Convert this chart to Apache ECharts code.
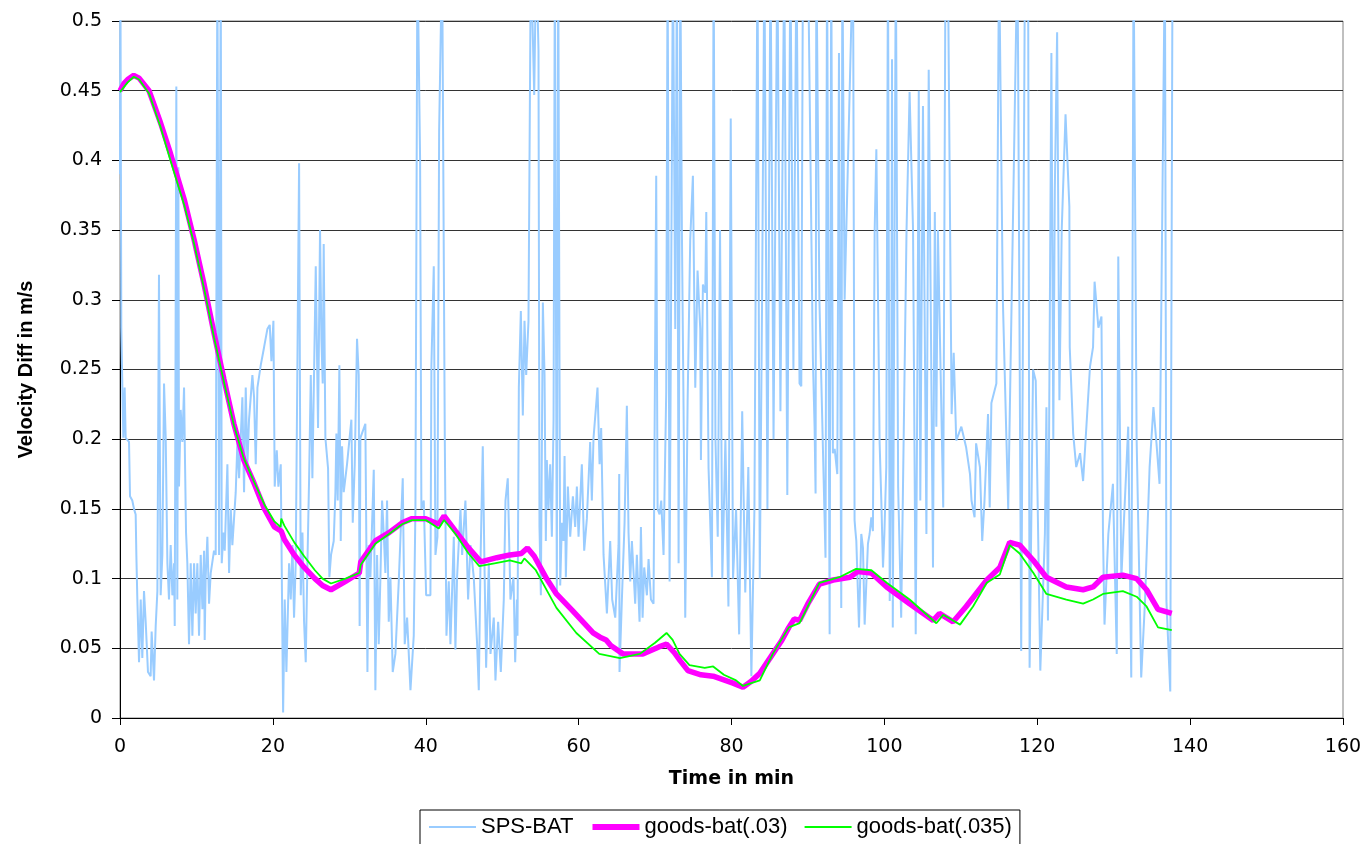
<!DOCTYPE html>
<html>
<head>
<meta charset="utf-8">
<script src="https://cdn.jsdelivr.net/npm/echarts@6/dist/echarts.min.js"></script>
<style>html,body{margin:0;padding:0;background:#fff;}#c{width:1372px;height:844px;}</style>
</head>
<body>
<div id="c"></div>
<script>
// ---- data: [time in min, velocity diff in m/s] ----
const spsBat = [
[0,0.39],[0.05,0.55],[0.12,0.39],[0.17,0.28],[0.31,0.237],[0.44,0.201],[0.61,0.237],[0.74,0.201],[1.18,0.198],[1.31,0.159],[1.61,0.156],[1.83,0.150],[2.05,0.146],[2.14,0.117],[2.27,0.085],[2.49,0.040],[2.71,0.085],[2.92,0.043],[3.14,0.091],[3.36,0.069],[3.66,0.033],[4.01,0.030],[4.14,0.062],[4.45,0.027],[4.67,0.066],[4.89,0.091],[5.10,0.318],[5.32,0.088],[5.54,0.117],[5.76,0.240],[5.98,0.201],[6.20,0.111],[6.41,0.085],[6.63,0.124],[6.85,0.088],[7.07,0.111],[7.16,0.066],[7.37,0.453],[7.50,0.085],[7.64,0.395],[7.72,0.166],[7.94,0.221],[8.16,0.198],[8.38,0.237],[8.51,0.182],[8.64,0.133],[8.81,0.111],[9.03,0.053],[9.25,0.111],[9.47,0.059],[9.69,0.111],[9.90,0.075],[10.12,0.111],[10.34,0.059],[10.56,0.117],[10.78,0.078],[11.00,0.120],[11.08,0.056],[11.21,0.101],[11.43,0.130],[11.65,0.082],[11.87,0.104],[12.30,0.120],[12.52,0.117],[12.74,0.55],[12.96,0.117],[13.18,0.55],[13.31,0.111],[13.53,0.133],[13.70,0.120],[14.05,0.182],[14.27,0.104],[14.49,0.150],[14.70,0.124],[14.92,0.143],[15.14,0.162],[15.36,0.198],[15.58,0.172],[16.01,0.230],[16.23,0.162],[16.45,0.237],[16.67,0.182],[16.88,0.214],[17.32,0.246],[17.54,0.230],[17.76,0.182],[17.98,0.237],[18.41,0.253],[18.85,0.266],[19.28,0.279],[19.59,0.282],[19.81,0.256],[20.07,0.285],[20.24,0.166],[20.51,0.192],[20.72,0.166],[21.03,0.182],[21.34,0.004],[21.55,0.085],[21.77,0.033],[22.12,0.111],[22.34,0.085],[22.56,0.124],[22.77,0.072],[22.99,0.111],[23.43,0.398],[23.65,0.088],[23.87,0.133],[24.08,0.069],[24.30,0.040],[24.52,0.111],[24.74,0.172],[24.96,0.246],[25.17,0.172],[25.61,0.324],
[25.69,0.324],[25.91,0.208],[26.17,0.350],[26.35,0.272],[26.52,0.240],[26.65,0.340],[26.87,0.201],[27.22,0.179],[27.39,0.101],[27.61,0.117],[27.96,0.127],[28.18,0.162],[28.31,0.204],[28.48,0.156],[28.70,0.253],[28.88,0.127],[29.05,0.195],[29.27,0.162],[29.70,0.182],[30.27,0.214],[30.45,0.140],[30.71,0.182],[31.01,0.272],[31.23,0.246],[31.35,0.066],[31.45,0.201],[32.10,0.211],[32.37,0.033],[32.54,0.124],[32.76,0.101],[33.20,0.178],[33.41,0.020],[33.63,0.117],[33.85,0.053],[34.07,0.101],[34.29,0.156],[34.50,0.133],[34.72,0.104],[34.94,0.156],[35.16,0.069],[35.38,0.101],[35.68,0.033],[36.03,0.046],[36.47,0.098],[36.99,0.172],[37.25,0.053],[37.56,0.072],[38.00,0.020],[38.43,0.059],[38.65,0.150],[38.91,0.55],[39.26,0.401],[39.43,0.150],[39.74,0.156],[40.05,0.088],[40.61,0.088],[40.74,0.253],[41.05,0.324],[41.27,0.117],[41.53,0.130],[41.75,0.421],[42.14,0.55],[42.49,0.201],[42.71,0.059],[43.01,0.098],[43.23,0.053],[43.67,0.130],[43.88,0.049],[44.10,0.101],[44.54,0.150],[44.76,0.117],[45.19,0.156],[45.54,0.085],[45.85,0.124],[46.28,0.101],[46.72,0.053],[46.94,0.020],[47.16,0.111],[47.46,0.195],[47.68,0.111],[47.90,0.036],[48.25,0.111],[48.47,0.046],[48.90,0.072],[49.12,0.027],[49.47,0.069],[49.82,0.033],[50.21,0.085],[50.43,0.156],[50.73,0.172],[51.08,0.085],[51.48,0.101],
[51.70,0.040],[51.92,0.085],[52.00,0.059],[52.18,0.237],[52.44,0.292],[52.70,0.217],[52.92,0.285],[53.14,0.246],[53.44,0.285],[53.75,0.55],[54.19,0.447],[54.45,0.55],[54.75,0.479],[54.88,0.137],[55.06,0.088],[55.32,0.298],[55.54,0.246],[55.71,0.127],[55.84,0.185],[56.06,0.150],[56.28,0.182],[56.50,0.130],[56.72,0.214],[56.89,0.55],[57.15,0.091],[57.33,0.55],[57.59,0.095],[57.81,0.140],[58.02,0.127],[58.16,0.188],[58.33,0.101],[58.59,0.166],[58.90,0.130],[59.25,0.159],[59.55,0.137],[59.77,0.166],[59.99,0.130],[60.42,0.182],[60.73,0.120],[61.08,0.143],[61.51,0.198],[61.73,0.156],[61.95,0.201],[62.47,0.237],[62.74,0.182],[62.95,0.208],[63.26,0.117],[63.70,0.075],[64.13,0.127],[64.39,0.085],[64.79,0.072],[65.22,0.124],[65.31,0.175],[65.35,0.033],[65.66,0.085],[66.01,0.140],[66.31,0.224],[66.53,0.133],[66.75,0.098],[66.97,0.127],[67.40,0.082],[67.62,0.117],[67.97,0.069],[68.15,0.137],[68.37,0.072],[68.58,0.108],[68.93,0.088],[69.15,0.114],[69.46,0.085],[69.80,0.082],[70.15,0.389],[70.33,0.150],[70.59,0.146],[70.81,0.156],[71.11,0.117],[71.46,0.234],[71.64,0.55],[71.90,0.098],[72.34,0.55],[72.64,0.279],[72.86,0.55],[73.08,0.111],[73.30,0.55],[73.51,0.350],[73.73,0.221],[73.95,0.072],[74.26,0.227],[74.60,0.343],[74.95,0.389],[75.26,0.237],[75.56,0.321],[75.91,0.279],[76.00,0.185],[76.26,0.311],[76.57,0.305],[76.70,0.363],[77.00,0.179],[77.44,0.101],[77.66,0.55],
[77.9,0.2],[78.2,0.13],[78.5,0.35],[78.8,0.1],[79.2,0.2],[79.6,0.08],[79.9,0.43],[80.2,0.1],[80.6,0.15],[81.0,0.06],[81.4,0.22],[81.8,0.09],[82.2,0.18],[82.6,0.03],[83.0,0.15],[83.4,0.55],[83.7,0.1],[84.0,0.3],[84.3,0.55],[84.7,0.15],[85.1,0.55],[85.5,0.2],[86.0,0.55],[86.4,0.22],[86.9,0.55],[87.3,0.16],[87.7,0.55],[88.1,0.25],[88.5,0.55],[88.9,0.24],
[89.13,0.238],[89.35,0.55],[90.0,0.55],[90.65,0.257],[90.87,0.209],[91.0,0.161],[91.1,0.55],[91.5,0.3],[92.3,0.115],[92.5,0.55],[92.84,0.06],[93.05,0.55],[93.27,0.19],[93.5,0.193],[93.84,0.175],[94.06,0.477],[94.36,0.079],[94.5,0.55],[94.8,0.3],[95.9,0.55],[96.1,0.142],[96.2,0.135],[96.33,0.127],[96.68,0.065],[96.98,0.132],[97.2,0.122],[97.42,0.067],[97.85,0.125],[98.07,0.132],[98.29,0.144],[98.5,0.134],[98.73,0.35],[98.95,0.408],[99.38,0.197],[99.6,0.156],[99.82,0.108],[100.0,0.132],[100.25,0.180],[100.47,0.55],[100.7,0.084],[100.9,0.204],[101.0,0.4725],[101.1,0.065],[101.5,0.55],[101.8,0.166],[102.2,0.072],[102.9,0.35],[103.3,0.449],[103.75,0.35],[104.1,0.06],[104.3,0.228],[104.5,0.45],[104.7,0.156],[105.05,0.439],[105.5,0.132],[105.8,0.465],[106.36,0.108],[106.6,0.363],[106.8,0.209],[107.0,0.35],[107.7,0.151],[108.0,0.55],[108.3,0.55],[108.8,0.218],[109.07,0.262],[109.4,0.199],[110.07,0.209],[110.7,0.194],[111.2,0.175],[111.4,0.156],[111.8,0.144],[112.0,0.197],[112.5,0.18],[112.8,0.127],[113.1,0.156],[113.56,0.218],[113.78,0.151],[114.0,0.226],[114.65,0.24],[115.0,0.55],[115.5,0.3],[116.2,0.15],[117.4,0.55],[117.5,0.467],[117.9,0.048],[118.4,0.55],[118.8,0.55],[119.0,0.036],[119.45,0.25],[119.8,0.242],[120.4,0.034],[121.0,0.132],[121.2,0.223],[121.4,0.07],[121.85,0.477],[122.1,0.2],[122.3,0.38],[122.6,0.492],[122.9,0.228],[123.2,0.35],[123.7,0.433],[124.2,0.367],[124.25,0.266],[124.7,0.204],[125.1,0.18],[125.6,0.19],[126.0,0.17],[126.9,0.252],[127.3,0.266],[127.5,0.313],[128.0,0.28],[128.4,0.288],[128.6,0.132],[128.8,0.067],[129.3,0.132],[129.9,0.168],[130.4,0.046],[130.6,0.331],[131.0,0.1],[131.9,0.209],[132.3,0.029],[132.6,0.55],[133.0,0.2],[133.6,0.029],[134.1,0.084],[134.7,0.18],[135.2,0.223],[135.6,0.197],[136.0,0.168],[136.7,0.55],[136.9,0.084],[137.4,0.019],[137.7,0.55]
];
const goods03 = [
[0,0.450],[0.5,0.455],[1,0.458],[1.8,0.461],[2.5,0.459],[3.8,0.450],[5.3,0.427],[6.6,0.405],[8.4,0.372],[9.7,0.343],[11.0,0.311],[12.3,0.276],[13.6,0.243],[14.9,0.211],[16.2,0.185],[17.5,0.169],[18.9,0.150],[20.2,0.137],[21.1,0.134],[21.5,0.128],[22.8,0.117],[24.1,0.108],[25.5,0.100],[26.5,0.095],[27.6,0.092],[29.5,0.098],[31.3,0.104],[31.5,0.112],[33.4,0.127],[35.2,0.133],[36.9,0.140],[38.2,0.143],[40.0,0.143],[41.7,0.139],[42.4,0.145],[43.9,0.134],[45.6,0.122],[47.2,0.112],[49.3,0.115],[51.0,0.117],[52.5,0.118],[53.3,0.122],[54.2,0.116],[55.8,0.100],[57.1,0.089],[59.2,0.077],[61.9,0.061],[62.8,0.058],[63.6,0.056],[64.2,0.052],[65.8,0.046],[68.4,0.046],[70.5,0.051],[71.5,0.053],[72.5,0.047],[73.3,0.041],[74.3,0.034],[76.0,0.031],[77.6,0.030],[80.2,0.025],[81.5,0.022],[82.5,0.026],[83.7,0.032],[85.4,0.046],[86.5,0.055],[87.5,0.065],[88.2,0.071],[88.9,0.070],[90.0,0.082],[91.5,0.096],[93.3,0.099],[95.5,0.101],[96.5,0.105],[98.3,0.104],[100.3,0.094],[103.3,0.082],[106.4,0.070],[107.2,0.075],[109.0,0.069],[110.7,0.080],[113.4,0.099],[115.1,0.108],[116.4,0.126],[117.7,0.124],[119.5,0.113],[121.2,0.101],[123.8,0.094],[126.0,0.092],[127.3,0.094],[128.6,0.101],[131.2,0.1025],[133.0,0.100],[134.3,0.092],[135.8,0.078],[137.6,0.075]
];
const goods035 = [
[0,0.449],[1,0.456],[1.8,0.460],[2.5,0.458],[3.8,0.448],[5.3,0.424],[6.6,0.400],[8.4,0.368],[9.7,0.340],[11.0,0.308],[12.3,0.273],[13.6,0.241],[14.9,0.210],[16.2,0.186],[17.5,0.170],[18.9,0.153],[20.2,0.141],[21.0,0.137],[21.1,0.143],[21.5,0.138],[22.8,0.126],[24.1,0.116],[25.5,0.106],[26.5,0.100],[27.6,0.0965],[29.5,0.100],[31.3,0.104],[31.5,0.110],[33.4,0.125],[35.2,0.132],[36.9,0.139],[38.2,0.142],[40.0,0.142],[41.7,0.136],[42.4,0.142],[43.9,0.132],[45.6,0.118],[47.0,0.109],[49.0,0.111],[51.0,0.113],[52.5,0.111],[52.9,0.1145],[54.4,0.106],[55.5,0.095],[57.1,0.079],[59.7,0.061],[62.7,0.046],[65.4,0.043],[68.0,0.046],[70.0,0.054],[71.5,0.061],[72.3,0.056],[73.2,0.046],[74.5,0.038],[76.5,0.036],[77.6,0.037],[79.0,0.031],[80.6,0.027],[81.5,0.023],[83.7,0.027],[85.4,0.046],[87.5,0.065],[88.9,0.068],[91.5,0.097],[94.1,0.101],[96.3,0.107],[98.3,0.106],[100.3,0.097],[103.3,0.085],[106.8,0.068],[107.7,0.074],[109.9,0.067],[111.6,0.080],[113.4,0.097],[115.1,0.103],[116.4,0.124],[117.7,0.118],[119.5,0.104],[121.2,0.089],[123.8,0.085],[126.0,0.082],[127.3,0.085],[128.6,0.089],[131.2,0.091],[133.0,0.087],[134.3,0.080],[135.8,0.065],[137.6,0.063]
];
const seriesNames = ['SPS-BAT', 'goods-bat(.03)', 'goods-bat(.035)'];
const xRange = [0, 160, 20];
const yRange = [0, 0.5, 0.05];

const chart = echarts.init(document.getElementById('c'), null, {renderer: 'canvas'});
chart.setOption({
  animation: false,
  backgroundColor: '#ffffff',
  grid: {left: 120, right: 29, top: 21, bottom: 126, show: true, borderColor: '#808080', borderWidth: 1},
  xAxis: {
    type: 'value', min: xRange[0], max: xRange[1], interval: xRange[2],
    name: 'Time in min', nameLocation: 'middle', nameGap: 52,
    nameTextStyle: {fontFamily: 'DejaVu Sans', fontWeight: 'bold', fontSize: 19, color: '#000'},
    axisLine: {show: true, lineStyle: {color: '#000', width: 1}},
    axisTick: {show: true, length: 7, lineStyle: {color: '#000'}},
    axisLabel: {fontFamily: 'DejaVu Sans', fontSize: 19, color: '#000', margin: 20},
    splitLine: {show: false}
  },
  yAxis: {
    type: 'value', min: yRange[0], max: yRange[1], interval: yRange[2],
    name: 'Velocity Diff in m/s', nameLocation: 'middle', nameGap: 84, nameRotate: 90,
    nameTextStyle: {fontFamily: 'Liberation Sans', fontWeight: 'bold', fontSize: 20, color: '#000'},
    axisLine: {show: true, lineStyle: {color: '#000', width: 1}},
    axisTick: {show: true, length: 8, lineStyle: {color: '#000'}},
    axisLabel: {fontFamily: 'DejaVu Sans', fontSize: 19, color: '#000', margin: 18},
    splitLine: {show: true, lineStyle: {color: '#333', width: 1}}
  },
  legend: {
    left: 420, top: 810, orient: 'horizontal',
    borderColor: '#000', borderWidth: 1, padding: [6, 8, 30, 8],
    itemWidth: 47, itemHeight: 10, itemGap: 16,
    itemStyle: {color: 'rgba(0,0,0,0)', borderWidth: 0, opacity: 0},
    textStyle: {fontFamily: 'Liberation Sans', fontSize: 22, color: '#000', padding: [0,0,0,0]},
    data: [
      {name: seriesNames[0], lineStyle: {width: 2}},
      {name: seriesNames[1], lineStyle: {width: 6}},
      {name: seriesNames[2], lineStyle: {width: 2}}
    ]
  },
  series: [
    {name: seriesNames[0], type: 'line', data: spsBat, showSymbol: false, symbol: 'none', sampling: null,
     clip: true, lineStyle: {color: '#99ccff', width: 2}, itemStyle: {color: '#99ccff'}, z: 1},
    {name: seriesNames[1], type: 'line', data: goods03, showSymbol: false, symbol: 'none', clip: true,
     lineStyle: {color: '#ff00ff', width: 5.5}, itemStyle: {color: '#ff00ff'}, z: 2},
    {name: seriesNames[2], type: 'line', data: goods035, showSymbol: false, symbol: 'none', clip: true,
     lineStyle: {color: '#00ff00', width: 1.8}, itemStyle: {color: '#00ff00'}, z: 3}
  ]
});
</script>
</body>
</html>
